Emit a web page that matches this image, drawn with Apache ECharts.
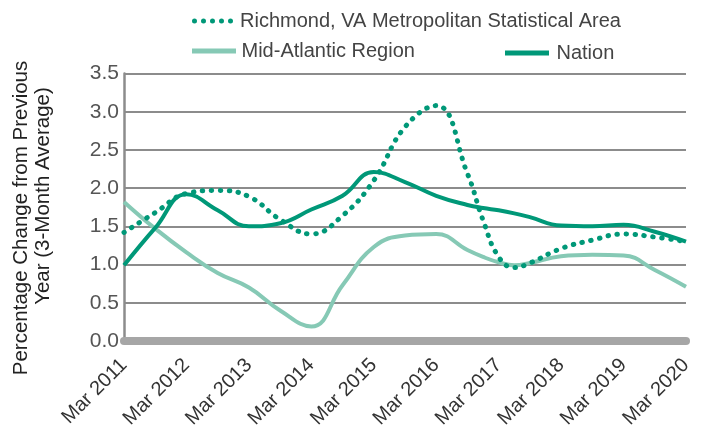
<!DOCTYPE html>
<html>
<head>
<meta charset="utf-8">
<script src="https://cdn.jsdelivr.net/npm/echarts@6/dist/echarts.min.js"></script>
<style>
  html, body { margin: 0; padding: 0; background: #fff; }
  #chart { width: 701px; height: 447px; }
</style>
</head>
<body>
<div id="chart"></div>
<script>
// x positions in years, 2011 = Mar 2011
var dates = [2011, 2011.5, 2012, 2012.5, 2013, 2013.5, 2014, 2014.5, 2015, 2015.5,
             2016, 2016.5, 2016.75, 2017, 2017.25, 2017.5, 2018, 2018.5, 2019, 2019.5, 2020];
var richmond = [1.42, 1.68, 1.93, 1.97, 1.89, 1.59, 1.40, 1.64, 2.10, 2.80,
                3.08, 2.19, 1.58, 1.10, 0.96, 1.02, 1.21, 1.32, 1.40, 1.36, 1.30];
var midAtlantic = [1.82, 1.47, 1.16, 0.89, 0.70, 0.40, 0.19, 0.73, 1.23, 1.38,
                   1.40, 1.19, 1.10, 1.03, 0.99, 1.02, 1.11, 1.13, 1.12, 0.93, 0.71];
var nation = [0.99, 1.48, 1.92, 1.71, 1.50, 1.54, 1.72, 1.90, 2.21, 2.08,
              1.90, 1.78, 1.74, 1.71, 1.67, 1.62, 1.51, 1.50, 1.52, 1.43, 1.30];
var yTitle = ['Percentage Change from Previous', 'Year (3-Month Average)'];

var dark = '#009878';
var light = '#86c9b5';
var font = 'Liberation Sans';

function pairs(vals) {
    return vals.map(function (v, i) { return [dates[i], v]; });
}

// legend icons: a row of dots and a plain bar
var dot = 'a2.5,2.5 0 1,0 5,0a2.5,2.5 0 1,0 -5,0Z';
var dotIcon = 'path://M0,2.5' + dot + 'M9,2.5' + dot + 'M18,2.5' + dot + 'M27,2.5' + dot + 'M36,2.5' + dot;
var barIcon = 'path://M0,0H44V5H0Z';

var chart = echarts.init(document.getElementById('chart'));
function legendText(gap) {
    return { fontSize: 20, color: '#444', fontFamily: font, padding: [0, 0, 0, gap] };
}

var option = {
    animation: false,
    grid: { left: 124, right: 15, top: 73.5, bottom: 106, containLabel: false, outerBoundsMode: 'none' },
    legend: [
        { left: 187, top: 6, itemWidth: 41, itemHeight: 5, icon: dotIcon,
          data: ['Richmond, VA Metropolitan Statistical Area'], textStyle: legendText(2) },
        { left: 187, top: 36, itemWidth: 45, itemHeight: 5, icon: barIcon,
          data: ['Mid-Atlantic Region'], textStyle: legendText(0) },
        { left: 500, top: 38, itemWidth: 47, itemHeight: 5, icon: barIcon,
          data: ['Nation'], textStyle: legendText(1) }
    ],
    graphic: [
        { type: 'text', x: 21, y: 218, rotation: Math.PI / 2,
          style: { text: yTitle[0], font: '20.5px "Liberation Sans"', fill: '#222',
                   align: 'center', verticalAlign: 'middle' } },
        { type: 'text', x: 43, y: 196, rotation: Math.PI / 2,
          style: { text: yTitle[1], font: '20.5px "Liberation Sans"', fill: '#222',
                   align: 'center', verticalAlign: 'middle' } }
    ],
    xAxis: {
        type: 'value',
        min: 2011,
        max: 2020,
        interval: 1,
        axisLine: { show: true, onZero: false, lineStyle: { color: '#a6a6a6', width: 8 } },
        axisTick: { show: false },
        splitLine: { show: false },
        axisLabel: {
            rotate: 45,
            margin: 21,
            fontSize: 20,
            color: '#333',
            fontFamily: font,
            formatter: function (v) { return 'Mar ' + v; }
        }
    },
    yAxis: {
        type: 'value',
        min: 0,
        max: 3.5,
        interval: 0.5,
        axisLine: { show: true, lineStyle: { color: '#8c8c8c', width: 2.5 } },
        axisTick: { show: false },
        splitLine: { lineStyle: { color: '#8c8c8c', width: 2 } },
        axisLabel: {
            fontSize: 21,
            color: '#555',
            fontFamily: font,
            margin: 5,
            formatter: function (v) { return v.toFixed(1); }
        }
    },
    series: [
        {
            name: 'Richmond, VA Metropolitan Statistical Area',
            type: 'line',
            smooth: 0.45,
            symbol: 'none',
            data: pairs(richmond),
            itemStyle: { color: dark },
            lineStyle: { color: dark, width: 5, type: [0.5, 8.5], cap: 'round' },
            z: 4
        },
        {
            name: 'Mid-Atlantic Region',
            type: 'line',
            smooth: 0.45,
            symbol: 'none',
            data: pairs(midAtlantic),
            itemStyle: { color: light },
            lineStyle: { color: light, width: 4 },
            z: 2
        },
        {
            name: 'Nation',
            type: 'line',
            smooth: 0.45,
            symbol: 'none',
            data: pairs(nation),
            itemStyle: { color: dark },
            lineStyle: { color: dark, width: 4 },
            z: 3
        }
    ]
};

chart.setOption(option);
</script>
</body>
</html>
